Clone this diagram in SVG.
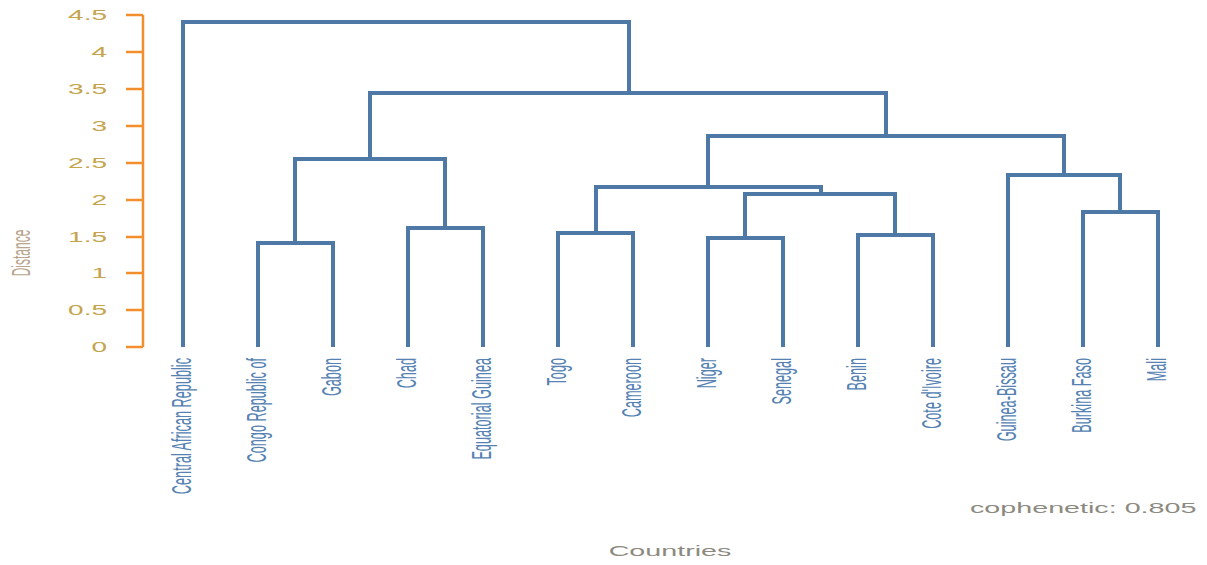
<svg xmlns="http://www.w3.org/2000/svg" width="1207" height="565" viewBox="0 0 1207 565">
<style>
.tick{font-family:"Liberation Sans",Arial,sans-serif;font-size:14px;fill:#c4a44c;text-anchor:end}
.leaf{font-family:"Liberation Sans",Arial,sans-serif;font-size:12.7px;fill:#5582b2;text-anchor:end}
.ttl{font-family:"Liberation Sans",Arial,sans-serif;font-size:14px;fill:#8c8a80}
.ax{stroke:#f28e2b;stroke-width:2.5;fill:none}
.br{stroke:#4e79a7;stroke-width:4;fill:none;stroke-linejoin:miter}
</style>
<rect width="1207" height="565" fill="#ffffff"/>
<g id="axis">
<path class="ax" d="M143,15 V347 M126,15 H143 M126,52 H143 M126,89 H143 M126,126 H143 M126,163 H143 M126,200 H143 M126,237 H143 M126,273 H143 M126,310 H143 M126,347 H143"/>
<text class="tick" transform="translate(107,20) scale(2,1)">4.5</text>
<text class="tick" transform="translate(107,57) scale(2,1)">4</text>
<text class="tick" transform="translate(107,94) scale(2,1)">3.5</text>
<text class="tick" transform="translate(107,131) scale(2,1)">3</text>
<text class="tick" transform="translate(107,168) scale(2,1)">2.5</text>
<text class="tick" transform="translate(107,205) scale(2,1)">2</text>
<text class="tick" transform="translate(107,242) scale(2,1)">1.5</text>
<text class="tick" transform="translate(107,278) scale(2,1)">1</text>
<text class="tick" transform="translate(107,315) scale(2,1)">0.5</text>
<text class="tick" transform="translate(107,352) scale(2,1)">0</text>
<text class="ttl" style="fill:#b8a48c;font-size:12px;text-anchor:middle" transform="translate(30,253) scale(2.2,1) rotate(-90)">Distance</text>
</g>
<g id="connectors">
<path class="br" d="M183,347 V22 H629 V93"/>
<path class="br" d="M370,159 V93 H886 V136"/>
<path class="br" d="M295,243 V159 H445 V228"/>
<path class="br" d="M258,347 V243 H333 V347"/>
<path class="br" d="M408,347 V228 H483 V347"/>
<path class="br" d="M708,187 V136 H1064 V175"/>
<path class="br" d="M596,233 V187 H821 V194"/>
<path class="br" d="M558,347 V233 H633 V347"/>
<path class="br" d="M745,238 V194 H895 V235"/>
<path class="br" d="M708,347 V238 H783 V347"/>
<path class="br" d="M858,347 V235 H933 V347"/>
<path class="br" d="M1008,347 V175 H1120 V212"/>
<path class="br" d="M1083,347 V212 H1158 V347"/>
</g>
<g id="leaf-labels">
<text class="leaf" transform="translate(191,358) scale(2.2,1) rotate(-90)">Central African Republic</text>
<text class="leaf" transform="translate(266,358) scale(2.2,1) rotate(-90)">Congo Republic of</text>
<text class="leaf" transform="translate(341,358) scale(2.2,1) rotate(-90)">Gabon</text>
<text class="leaf" transform="translate(416,358) scale(2.2,1) rotate(-90)">Chad</text>
<text class="leaf" transform="translate(491,358) scale(2.2,1) rotate(-90)">Equatorial Guinea</text>
<text class="leaf" transform="translate(566,358) scale(2.2,1) rotate(-90)">Togo</text>
<text class="leaf" transform="translate(641,358) scale(2.2,1) rotate(-90)">Cameroon</text>
<text class="leaf" transform="translate(716,358) scale(2.2,1) rotate(-90)">Niger</text>
<text class="leaf" transform="translate(791,358) scale(2.2,1) rotate(-90)">Senegal</text>
<text class="leaf" transform="translate(866,358) scale(2.2,1) rotate(-90)">Benin</text>
<text class="leaf" transform="translate(941,358) scale(2.2,1) rotate(-90)">Cote d'Ivoire</text>
<text class="leaf" transform="translate(1016,358) scale(2.2,1) rotate(-90)">Guinea-Bissau</text>
<text class="leaf" transform="translate(1091,358) scale(2.2,1) rotate(-90)">Burkina Faso</text>
<text class="leaf" transform="translate(1166,358) scale(2.2,1) rotate(-90)">Mali</text>
</g>
<g id="annotations">
<text class="ttl" transform="translate(970,513) scale(2.05,1)">cophenetic: 0.805</text>
<text class="ttl" style="text-anchor:middle" transform="translate(670,556) scale(2.05,1)">Countries</text>
</g>
</svg>
